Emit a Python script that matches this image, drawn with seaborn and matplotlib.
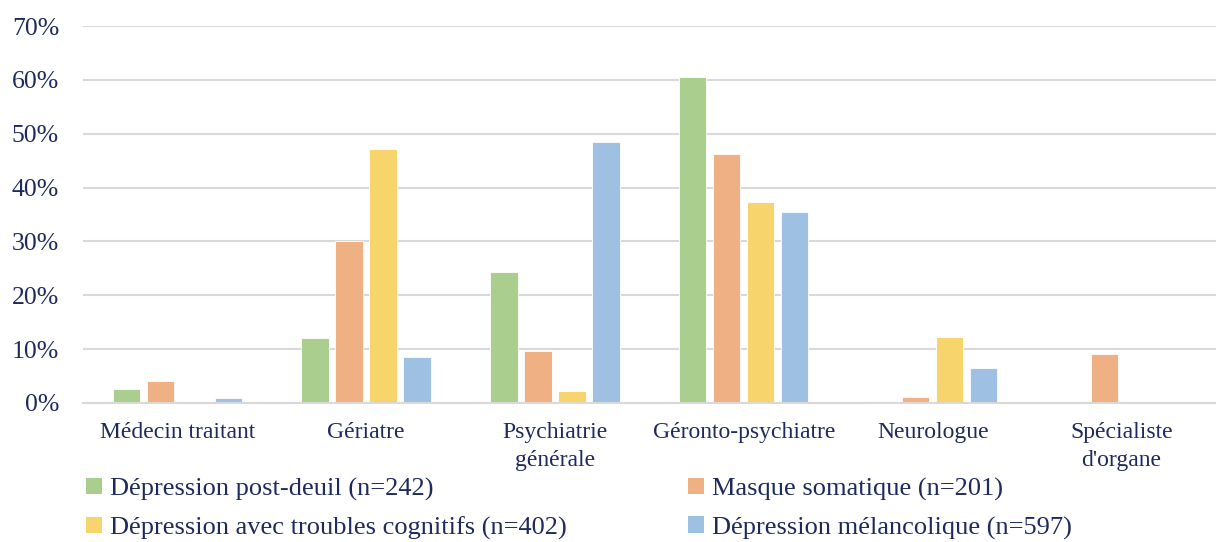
import matplotlib
matplotlib.use("Agg")
import matplotlib.pyplot as plt
import seaborn as sns
import pandas as pd
from matplotlib.ticker import FuncFormatter
from matplotlib.patches import Patch

categories = ["Médecin traitant", "Gériatre", "Psychiatrie\ngénérale",
              "Géronto-psychiatre", "Neurologue", "Spécialiste\nd'organe"]
series = ["Dépression post-deuil (n=242)", "Masque somatique (n=201)",
          "Dépression avec troubles cognitifs (n=402)", "Dépression mélancolique (n=597)"]
post_deuil = [2.6, 12.0, 24.4, 60.6, 0.4, 0.0]
masque_somatique = [4.1, 30.0, 9.6, 46.3, 1.1, 9.1]
troubles_cognitifs = [0.2, 47.2, 2.2, 37.4, 12.2, 0.1]
melancolique = [0.9, 8.5, 48.5, 35.5, 6.5, 0.0]
colors = ["#A9CE8E", "#EFB084", "#F7D46C", "#9EC0E2"]

sns.set_theme(style="white")
plt.rcParams['font.family'] = ['Liberation Serif', 'DejaVu Serif']
text_color = "#1F2A5C"

rows = []
for s, vals in zip(series, [post_deuil, masque_somatique, troubles_cognitifs, melancolique]):
    for c, v in zip(categories, vals):
        rows.append({"cat": c, "series": s, "val": v})
df = pd.DataFrame(rows)

fig = plt.figure(figsize=(12.16, 5.42), dpi=100)
ax = fig.add_axes([0.068, 0.2565, 0.932, 0.6955])
sns.barplot(data=df, x="cat", y="val", hue="series", hue_order=series,
            palette=colors, saturation=1, width=0.72, gap=0.2, ax=ax, legend=False,
            edgecolor="white", linewidth=0.6)

ax.set_ylim(0, 70)
ax.set_yticks(range(0, 71, 10))
ax.yaxis.set_major_formatter(FuncFormatter(lambda v, p: f"{int(v)}%"))
ax.grid(axis="y", color="#D9D9D9", linewidth=1.5)
ax.set_axisbelow(True)
for s in ["top", "right", "left"]:
    ax.spines[s].set_visible(False)
ax.spines["bottom"].set_color("#D9D9D9")
ax.spines["bottom"].set_linewidth(1.5)
ax.set_xlabel("")
ax.set_ylabel("")
ax.tick_params(axis="y", labelsize=18.5, colors=text_color, length=0, pad=17)
ax.tick_params(axis="x", labelsize=17, colors=text_color, length=0, pad=14)
for lbl in ax.get_xticklabels():
    lbl.set_linespacing(1.4)
ax.set_xlim(-0.5, 5.5)

handles = [Patch(facecolor=c, edgecolor="none") for c in colors]
order = [0, 2, 1, 3]
leg = fig.legend([handles[i] for i in order], [series[i] for i in order],
                 ncol=2, loc="upper left", bbox_to_anchor=(0.071, 0.119),
                 frameon=False, fontsize=19, handlelength=0.6, handleheight=0.6,
                 handletextpad=0.3, columnspacing=4.6, labelspacing=0.6,
                 borderaxespad=0, borderpad=0)
for t in leg.get_texts():
    t.set_color(text_color)

fig.savefig("out.png", dpi=100)
